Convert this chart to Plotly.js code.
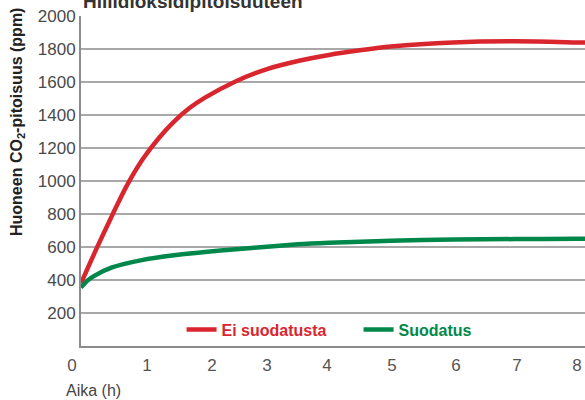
<!DOCTYPE html>
<html>
<head>
<meta charset="utf-8">
<script src="https://cdn.plot.ly/plotly-3.0.1.min.js"></script>
<style>html,body{margin:0;padding:0;background:#fff;overflow:hidden;width:585px;height:400px;}#chart{width:600px;height:400px;}</style>
</head>
<body>
<div id="chart"></div>
<script>
// Data (time in hours, CO2 in ppm)
const seriesNames = ["Ei suodatusta", "Suodatus"];
const hoursRed = [0, 0.25, 0.5, 0.75, 1.0, 1.25, 1.5, 1.75, 2.0, 2.5, 3.0, 3.5, 4.0, 4.5, 5.0, 6.0, 7.0, 8.0, 8.13];
const co2Red   = [380, 590, 790, 980, 1135, 1258, 1360, 1442, 1505, 1605, 1678, 1727, 1764, 1792, 1815, 1840, 1847, 1840, 1839];
const hoursGreen = [0, 0.1, 0.2, 0.5, 1.0, 1.5, 2.0, 2.5, 3.0, 3.5, 4.0, 5.0, 6.0, 7.0, 8.0, 8.13];
const co2Green   = [355, 395, 422, 476, 522, 550, 570, 586, 602, 617, 626, 638, 645, 648, 650, 650];
const xTickText = ["0", "1", "2", "3", "4", "5", "6", "7", "8"];
const yTickVals = [200, 400, 600, 800, 1000, 1200, 1400, 1600, 1800, 2000];

const RED = "#d9262e", GREEN = "#00884a";
const FONT = "'Liberation Sans', Arial, sans-serif";

// where the x tick labels sit (the original's labels are unevenly placed; shifted left 9px below)
const xTickPos = [0, 1.21, 2.258, 3.145, 4.113, 5.161, 6.194, 7.177, 8.145];

const traces = [
  {x: hoursRed, y: co2Red, name: '<span style="color:' + RED + '">' + seriesNames[0] + '</span>',
   type: "scatter", mode: "lines", line: {color: RED, width: 4.5, shape: "spline", smoothing: 1}},
  {x: hoursGreen, y: co2Green, name: '<span style="color:' + GREEN + '">' + seriesNames[1] + '</span>',
   type: "scatter", mode: "lines", line: {color: GREEN, width: 4.5, shape: "spline", smoothing: 0.6}}
];

const layout = {
  width: 600, height: 400,
  margin: {l: 72, r: 0, t: 16, b: 54, pad: 0},
  paper_bgcolor: "#fff", plot_bgcolor: "#fff",
  font: {family: FONT, size: 17, color: "#4a4a4a"},
  showlegend: true,
  legend: {orientation: "h", x: 0.2075, xanchor: "left", y: 0.05, yanchor: "middle",
           bgcolor: "rgba(0,0,0,0)", font: {family: FONT, size: 16, weight: "bold"},
           entrywidth: 132, entrywidthmode: "pixels"},
  title: {text: "<b>Hiilidioksidipitoisuuteen</b>", font: {family: FONT, size: 19, color: "#333"},
          x: 83/600, xanchor: "left", xref: "container", y: 1 - 1/400, yanchor: "middle", yref: "container"},
  xaxis: {domain: [9/528, 1], range: [0, 519/62], showline: true, linecolor: "#8c8c8c", linewidth: 2,
          showgrid: false, zeroline: false, tickvals: xTickPos, ticktext: xTickText,
          ticklabelshift: -9, ticks: "outside", ticklen: 3, tickcolor: "rgba(0,0,0,0)",
          tickfont: {family: FONT, size: 17, color: "#555"}, fixedrange: true},
  yaxis: {range: [0, 2000], tickvals: yTickVals, showgrid: true, gridcolor: "#a8a8a8", gridwidth: 1.5,
          showline: true, linecolor: "#8c8c8c", linewidth: 2, zeroline: false, ticks: "",
          tickfont: {family: FONT, size: 17, color: "#4a4a4a"}, fixedrange: true},
  annotations: [
    {text: "<b>Huoneen CO<sub>2</sub>-pitoisuus (ppm)</b>", textangle: -90, xref: "paper", yref: "paper",
     x: -54/528, y: (346 - 122)/330, xanchor: "center", yanchor: "middle", showarrow: false,
     font: {family: FONT, size: 16, color: "#222"}},
    {text: "Aika (h)", xref: "paper", yref: "paper", x: -8/528, y: (346 - 391)/330,
     xanchor: "left", yanchor: "middle", showarrow: false, font: {family: FONT, size: 16, color: "#444"}}
  ]
};

Plotly.newPlot("chart", traces, layout, {displayModeBar: false, staticPlot: true});
</script>
</body>
</html>
